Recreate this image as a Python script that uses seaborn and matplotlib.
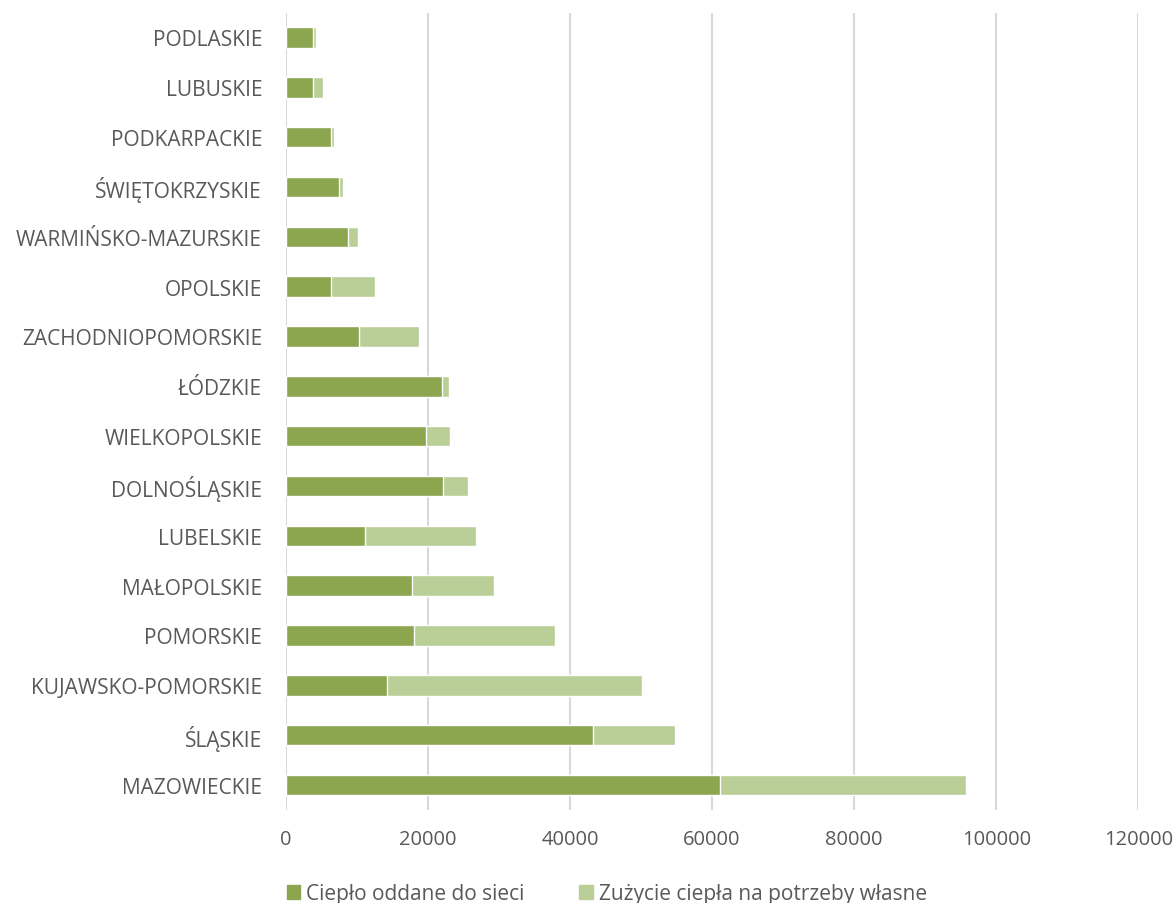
import matplotlib
matplotlib.use("Agg")
import matplotlib.pyplot as plt
import seaborn as sns
from matplotlib.patches import Patch

regions = ["PODLASKIE", "LUBUSKIE", "PODKARPACKIE", "ŚWIĘTOKRZYSKIE", "WARMIŃSKO-MAZURSKIE",
           "OPOLSKIE", "ZACHODNIOPOMORSKIE", "ŁÓDZKIE", "WIELKOPOLSKIE", "DOLNOŚLĄSKIE",
           "LUBELSKIE", "MAŁOPOLSKIE", "POMORSKIE", "KUJAWSKO-POMORSKIE", "ŚLĄSKIE", "MAZOWIECKIE"]
oddane = [3800, 3900, 6300, 7550, 8700, 6400, 10300, 22000, 19800, 22200,
          11200, 17700, 18000, 14200, 43200, 61100]
wlasne = [400, 1400, 500, 450, 1400, 6100, 8400, 1000, 3300, 3400,
          15600, 11600, 19900, 36000, 11600, 34600]
totals = [a + b for a, b in zip(oddane, wlasne)]
series_names = ["Ciepło oddane do sieci", "Zużycie ciepła na potrzeby własne"]

dark = "#8BA64F"
light = "#BACF98"
text_col = "#595959"

sns.set_theme(style="white")
plt.rcParams["font.family"] = ["Open Sans", "DejaVu Sans"]

fig = plt.figure(figsize=(11.76, 9.04), dpi=100)
ax = fig.add_axes([0.243, 0.103, 0.725, 0.882])

sns.barplot(x=totals, y=regions, color=light, width=0.41, ax=ax, saturation=1, orient="h")
sns.barplot(x=oddane, y=regions, color=dark, width=0.41, ax=ax, saturation=1, orient="h")

ax.set_xlim(0, 120000)
ax.set_xticks(range(0, 120001, 20000))
ax.xaxis.grid(True, color="#D9D9D9", linewidth=1.5)
ax.set_axisbelow(True)
for s in ax.spines.values():
    s.set_visible(False)
ax.tick_params(axis="x", length=0, pad=14, labelsize=14.5, labelcolor=text_col)
ax.tick_params(axis="y", length=0, pad=17, labelsize=15, labelcolor=text_col)
ax.set_xlabel("")
ax.set_ylabel("")

handles = [Patch(color=dark), Patch(color=light)]
fig.legend(handles, series_names, loc="center", bbox_to_anchor=(0.516, 0.01), ncol=2,
           frameon=False, fontsize=15, labelcolor=text_col, handlelength=0.65, handleheight=0.65,
           handletextpad=0.3, columnspacing=2.6)

fig.savefig("out.png", dpi=100)
